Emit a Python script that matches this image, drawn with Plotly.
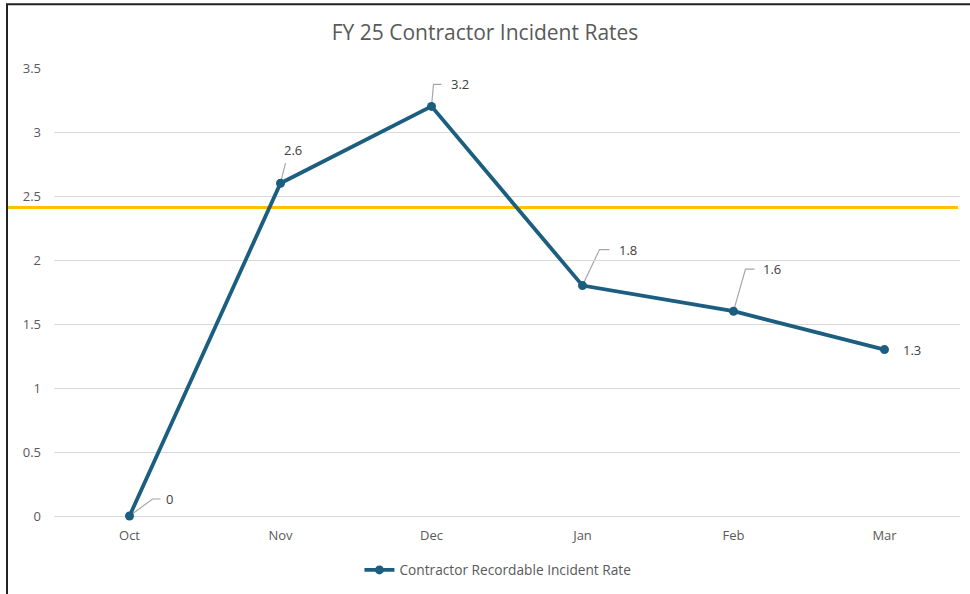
import plotly.graph_objects as go

months = ["Oct", "Nov", "Dec", "Jan", "Feb", "Mar"]
rates = [0, 2.6, 3.2, 1.8, 1.6, 1.3]
target = 2.41
y_ticks = [0, 0.5, 1, 1.5, 2, 2.5, 3, 3.5]
series_name = "Contractor Recordable Incident Rate"
title = "FY 25 Contractor Incident Rates"

# label placement (pixel offsets from point): leader path points and label center
leaders = [
    [(0, 0), (23, 17), (31, 17)],
    [(0, 0), (5, 20)],
    [(0, 0), (2, 22), (10, 22)],
    [(0, 0), (17, 36), (27, 36)],
    [(0, 0), (12, 42), (21, 42)],
    None,
]
label_pos = [(40, 17), (12, 33), (28, 22), (45, 36), (38, 42), (27, 0)]

W, H = 970, 594
L, R, T, B = 54, 10, 68, 77
pw = W - L - R
ph = H - T - B

LINE = "#1c5e7f"
GREY = "#595959"
FONT = "Open Sans"

fig = go.Figure()
fig.add_trace(go.Scatter(
    x=months, y=rates, mode="lines+markers", name=series_name,
    line=dict(color=LINE, width=3.8),
    marker=dict(color=LINE, size=9),
    cliponaxis=False,
))

shapes = []
annotations = []
for i, (m, v) in enumerate(zip(months, rates)):
    if leaders[i]:
        pts = leaders[i]
        path = "M" + " L".join(f"{px},{py}" for px, py in pts)
        shapes.append(dict(
            type="path", xref="x", yref="y",
            xsizemode="pixel", ysizemode="pixel",
            xanchor=i, yanchor=v, path=path,
            line=dict(color="#a6a6a6", width=1.2), layer="below",
        ))
    dx, dy = label_pos[i]
    annotations.append(dict(
        x=i, y=v, xref="x", yref="y", text=f"{v:g}", showarrow=False,
        xshift=dx, yshift=dy, font=dict(family=FONT, size=13, color="#404040"),
    ))

# target line
shapes.append(dict(
    type="line", xref="paper", yref="y",
    x0=(8 - L) / pw, x1=(958 - L) / pw, y0=target, y1=target,
    line=dict(color="#ffc000", width=3), layer="below",
))
# chart frame
shapes.append(dict(
    type="rect", xref="paper", yref="paper",
    x0=(7 - L) / pw, x1=(990 - L) / pw,
    y0=-(B + 20) / ph, y1=1 + (T - 4) / ph,
    line=dict(color="#222222", width=2), fillcolor="rgba(0,0,0,0)",
))

fig.update_layout(
    width=W, height=H,
    margin=dict(l=L, r=R, t=T, b=B),
    paper_bgcolor="white", plot_bgcolor="white",
    title=dict(text=title, x=0.5, xanchor="center", y=1 - 33 / H, yanchor="middle",
               font=dict(family=FONT, size=21, color=GREY)),
    font=dict(family=FONT, color=GREY),
    showlegend=True,
    legend=dict(orientation="h", x=0.49, xanchor="center", y=-(570 - 517) / ph,
                yanchor="middle", font=dict(family=FONT, size=13.7, color=GREY)),
    shapes=shapes, annotations=annotations,
)
fig.update_xaxes(
    range=[-0.5, 5.5], showgrid=False, zeroline=False, showline=False,
    tickfont=dict(family=FONT, size=13, color=GREY), ticks="", ticklabelstandoff=10,
)
fig.update_yaxes(
    range=[0, 3.5], tickvals=y_ticks, ticktext=[f"{t:g}" for t in y_ticks],
    showgrid=True, gridcolor="#d9d9d9", gridwidth=1,
    zeroline=True, zerolinecolor="#d9d9d9", zerolinewidth=1, showline=False,
    tickfont=dict(family=FONT, size=13, color=GREY), ticklabelstandoff=12,
)
fig.write_html("out.html", config={"displayModeBar": False},
               post_script="document.body.style.margin='0';")
